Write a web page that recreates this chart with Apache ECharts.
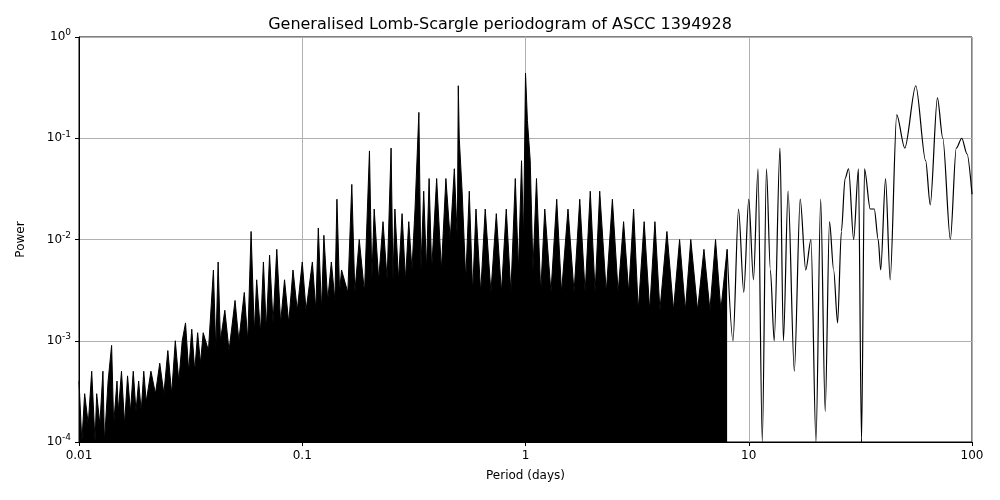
<!DOCTYPE html>
<html>
<head>
<meta charset="utf-8">
<script src="https://cdn.jsdelivr.net/npm/echarts@6/dist/echarts.min.js"></script>
<style>html,body{margin:0;padding:0;background:#fff}#chart{width:1000px;height:500px}</style>
</head>
<body>
<div id="chart"></div>
<script>
const densePeriods = [
  0.01, 0.0103, 0.0106, 0.011, 0.0114, 0.0118, 0.012, 0.0124, 0.0128, 0.013, 0.0135, 0.014, 0.0143, 0.0148,
  0.015, 0.0155, 0.016, 0.0165, 0.017, 0.0175, 0.018, 0.0185, 0.019, 0.0195, 0.02, 0.021, 0.022, 0.023,
  0.024, 0.025, 0.026, 0.027, 0.028, 0.029, 0.03, 0.031, 0.032, 0.033, 0.034, 0.035, 0.036, 0.038,
  0.04, 0.041, 0.042, 0.043, 0.045, 0.047, 0.05, 0.052, 0.055, 0.057, 0.059, 0.061, 0.0625, 0.065,
  0.067, 0.069, 0.0714, 0.074, 0.0769, 0.08, 0.0833, 0.087, 0.0909, 0.095, 0.1, 0.104, 0.111, 0.115,
  0.118, 0.122, 0.125, 0.13, 0.135, 0.14, 0.143, 0.147, 0.15, 0.16, 0.1667, 0.172, 0.18, 0.19,
  0.2, 0.205, 0.21, 0.22, 0.23, 0.24, 0.25, 0.255, 0.26, 0.27, 0.28, 0.29, 0.3, 0.31, 0.32, 0.333,
  0.34, 0.35, 0.36, 0.37, 0.38, 0.4, 0.42, 0.44, 0.46, 0.48, 0.495, 0.5, 0.505, 0.52, 0.54,
  0.56, 0.58, 0.6, 0.63, 0.66, 0.7, 0.74, 0.78, 0.82, 0.86, 0.9, 0.93, 0.96, 0.98, 1.0, 1.02,
  1.05, 1.08, 1.12, 1.17, 1.22, 1.3, 1.38, 1.45, 1.55, 1.65, 1.75, 1.85, 1.95, 2.05, 2.15, 2.3,
  2.45, 2.6, 2.75, 2.9, 3.05, 3.2, 3.4, 3.6, 3.8, 4.0, 4.3, 4.6, 4.9, 5.2, 5.5, 5.9, 6.3, 6.7, 7.1, 7.5, 8.0
];
const densePower = [
  4e-4, 1e-4, 3e-4, 1.5e-4, 5e-4, 1e-4, 3e-4, 1.5e-4, 5e-4, 1e-4, 4e-4, 9e-4, 1.5e-4, 4e-4,
  2e-4, 5e-4, 1.5e-4, 4.5e-4, 2e-4, 5e-4, 2e-4, 4e-4, 2e-4, 5e-4, 2.5e-4, 5e-4, 3e-4, 6e-4,
  3e-4, 8e-4, 3e-4, 1e-3, 4e-4, 1e-3, 1.5e-3, 5e-4, 1.3e-3, 5e-4, 1.2e-3, 6e-4, 1.2e-3, 8e-4,
  5e-3, 8e-4, 6e-3, 1e-3, 2e-3, 8e-4, 2.5e-3, 1e-3, 3e-3, 1e-3, 1.2e-2, 1.2e-3, 4e-3, 1.2e-3,
  6e-3, 1.3e-3, 7e-3, 1.5e-3, 8e-3, 1.5e-3, 4e-3, 1.5e-3, 5e-3, 2e-3, 6e-3, 2e-3, 6e-3, 2e-3,
  1.3e-2, 2e-3, 1.1e-2, 2.5e-3, 6e-3, 2.5e-3, 2.5e-2, 3e-3, 5e-3, 3e-3, 3.5e-2, 3e-3, 1e-2, 3e-3,
  7.5e-2, 4e-3, 2e-2, 4e-3, 1.5e-2, 4e-3, 8e-2, 4e-3, 2e-2, 4e-3, 1.8e-2, 4e-3, 1.5e-2, 5e-3, 2e-2, 1.8e-1,
  5e-3, 3e-2, 5e-3, 4e-2, 5e-3, 4e-2, 5e-3, 4e-2, 1e-2, 5e-2, 1e-2, 3.3e-1, 1e-1, 3e-2, 4e-3,
  3e-2, 3e-3, 2e-2, 3e-3, 2e-2, 3e-3, 1.8e-2, 3e-3, 2e-2, 3e-3, 4e-2, 5e-3, 6e-2, 1e-2, 4.4e-1, 1.5e-1,
  6e-2, 5e-3, 4e-2, 3e-3, 2e-2, 3e-3, 2.5e-2, 3e-3, 2e-2, 3e-3, 2.5e-2, 3e-3, 3e-2, 3e-3, 3e-2, 3e-3,
  2.5e-2, 3e-3, 1.5e-2, 3e-3, 2e-2, 2e-3, 1.5e-2, 2e-3, 1.5e-2, 2e-3, 1.2e-2, 2e-3, 1e-2, 2e-3, 1e-2, 2e-3, 8e-3, 2e-3, 1e-2, 2e-3, 8e-3
];
// Smooth long-period part
const smoothPeriods = [
  8.0, 8.5, 9.0, 9.5, 10.0, 10.5, 11.0, 11.5, 12.0, 12.5, 13.0, 13.8, 14.3, 15.0, 16.0, 17.0, 18.0,
  19.0, 20.0, 21.0, 22.0, 23.0, 24.0, 25.0, 26.0, 27.0, 28.0, 29.5, 31.0, 32.0, 33.0, 35.0, 36.5,
  38.0, 39.0, 41.0, 43.0, 46.0, 50.0, 56.0, 62.0, 65.0, 70.0, 74.0, 80.0, 85.0, 90.0, 95.0, 100.0
];
const smoothPower = [
  8e-3, 1e-3, 2e-2, 3e-3, 2.5e-2, 4e-3, 5e-2, 1e-4, 5e-2, 5e-3, 1e-3, 8e-2, 1e-3, 3e-2, 5e-4, 2.5e-2, 5e-3,
  1e-2, 1e-4, 2.5e-2, 2e-4, 1.5e-2, 5e-3, 1.5e-3, 1.2e-2, 4e-2, 5e-2, 1e-2, 5e-2, 1e-4, 5e-2, 2e-2, 2e-2,
  1e-2, 5e-3, 4e-2, 4e-3, 1.7e-1, 8e-2, 3.3e-1, 6e-2, 2.2e-2, 2.5e-1, 1e-1, 1e-2, 8e-2, 1e-1, 7e-2, 2.8e-2
];
const xTicks = [0.01, 0.1, 1, 10, 100];
const yExp = { 0.0001: '-4', 0.001: '-3', 0.01: '-2', 0.1: '-1', 1: '0' };

const chart = echarts.init(document.getElementById('chart'));
const font = 'DejaVu Sans';
chart.setOption({
  animation: false,
  textStyle: { fontFamily: font },
  title: { text: 'Generalised Lomb-Scargle periodogram of ASCC 1394928', left: 'center', top: 12,
    textStyle: { fontFamily: font, fontSize: 16, fontWeight: 'normal', color: '#000' } },
  grid: { left: 79, right: 28, top: 37, bottom: 58, show: true, borderColor: '#000', borderWidth: 1 },
  xAxis: {
    type: 'log', logBase: 10, min: 0.01, max: 100,
    name: 'Period (days)', nameLocation: 'middle', nameGap: 28,
    nameTextStyle: { fontSize: 12, color: '#000' },
    axisLine: { lineStyle: { color: '#000' } },
    axisTick: { lineStyle: { color: '#000' }, length: 4 },
    axisLabel: { fontSize: 12, color: '#000', formatter: v => {
      const t = xTicks.find(k => Math.abs(k - v) / k < 1e-6);
      return t === undefined ? '' : String(t);
    } },
    splitLine: { show: true, lineStyle: { color: '#b0b0b0' } }
  },
  yAxis: {
    type: 'log', logBase: 10, min: 1e-4, max: 1,
    name: 'Power', nameLocation: 'middle', nameGap: 52,
    nameTextStyle: { fontSize: 12, color: '#000' },
    axisLine: { lineStyle: { color: '#000' } },
    axisTick: { lineStyle: { color: '#000' }, length: 4 },
    axisLabel: { fontSize: 12, color: '#000',
      formatter: v => {
        const k = Object.keys(yExp).find(s => Math.abs(+s - v) / v < 1e-6);
        return k === undefined ? '' : '10{s|' + yExp[k] + '}';
      },
      rich: { s: { fontSize: 9, verticalAlign: 'top', padding: [0, 0, 8, 0] } } },
    splitLine: { show: true, lineStyle: { color: '#b0b0b0' } }
  },
  series: [
    { type: 'line', symbol: 'none', clip: true,
      data: densePeriods.map((p, i) => [p, densePower[i]]),
      lineStyle: { color: '#000', width: 1 },
      areaStyle: { color: '#000', opacity: 1, origin: 'start' } },
    { type: 'line', symbol: 'none', clip: true, smooth: 0.3, smoothMonotone: 'x',
      data: smoothPeriods.map((p, i) => [p, smoothPower[i]]),
      lineStyle: { color: '#000', width: 1.2 } }
  ]
});
</script>
</body>
</html>
